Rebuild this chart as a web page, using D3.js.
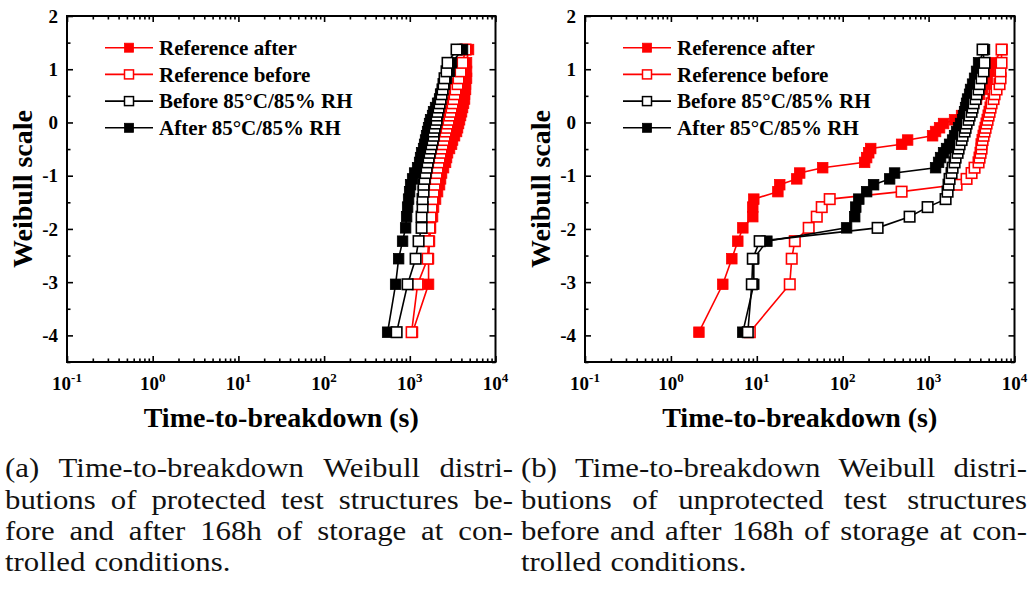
<!DOCTYPE html>
<html>
<head>
<meta charset="utf-8">
<script src="https://cdn.jsdelivr.net/npm/d3@7"></script>
<style>
  html, body { margin: 0; padding: 0; background: #fff; }
  svg { display: block; }
  .lbl { font-family: "Liberation Serif", "Times New Roman", serif; font-weight: bold; fill: #000; }
  .cap { font-family: "Liberation Serif", "Times New Roman", serif; font-size: 28px; fill: #111; }
</style>
</head>
<body>
<svg id="chart" width="1030" height="593"></svg>
<script>
// ---------------- data ----------------
// Weibull plotting levels shared by every series (36 samples each)
const weibullLevels = [-3.94,-3.04,-2.56,-2.23,-1.98,-1.77,-1.59,-1.44,-1.30,-1.17,-1.06,-0.95,-0.85,-0.75,-0.66,-0.57,-0.49,-0.41,-0.33,-0.25,-0.17,-0.10,-0.02,0.05,0.13,0.20,0.28,0.36,0.44,0.53,0.62,0.72,0.83,0.96,1.12,1.37];

const seriesNames = ["Reference after", "Reference before", "Before 85\u00B0C/85% RH", "After 85\u00B0C/85% RH"];

// Panel (a): protected test structures, time-to-breakdown (s)
const aRefAfter  = [1078,1656,1656,1701,1748,1844,1894,1999,2109,2225,2286,2348,2477,2614,2685,2758,2910,3071,3154,3328,3512,3607,3705,3806,3910,4016,4125,4237,4353,4353,4471,4471,4593,4593,4593,4846];
const aRefBefore = [1050,1233,1613,1656,1701,1748,1795,1844,1894,1946,1999,2053,2109,2166,2225,2286,2348,2412,2477,2545,2614,2685,2758,2833,2910,2989,3071,3154,3240,3328,3419,3607,3705,3910,4125,4471];
const aBefore85  = [702,943,1169,1266,1373,1373,1410,1410,1448,1448,1488,1528,1570,1613,1656,1701,1748,1795,1844,1894,1894,1946,1999,2053,2053,2109,2166,2225,2286,2348,2412,2477,2545,2685,2758,3512];
const aAfter85   = [551,683,741,824,894,918,943,968,995,1022,1078,1138,1233,1301,1336,1373,1448,1488,1528,1570,1613,1656,1701,1748,1844,1894,1999,2109,2225,2286,2412,2545,2685,2910,3071,4125];

// Panel (b): unprotected test structures, time-to-breakdown (s)
const bRefAfter  = [2.12,4.02,5.12,6.01,6.88,8.98,8.98,9.23,17.6,18.5,29.2,31.6,58.5,180,190,201,212,485,570,1113,1206,1342,1494,2006,2420,2694,2999,3338,3617,3919,4247,4603,4856,5123,5703,7150];
const bRefBefore = [8.29,24.2,25.5,27.7,40.2,49.9,57.0,70.6,485,2117,2767,3164,3428,3816,3919,4026,4135,4135,4247,4363,4481,4603,4728,4856,4988,5123,5262,5405,5703,5858,6180,6697,6879,6879,7066,7066];
const bBefore85  = [7.86,8.75,8.98,10.8,255,601,974,1577,1663,1708,1755,1851,1902,2006,2061,2174,2233,2294,2420,2486,2623,2694,2767,2919,2999,3164,3249,3338,3521,3617,3816,3919,4135,4363,4481,4247];
const bAfter85   = [6.88,9.23,9.23,13.1,111,138,142,154,190,229,352,402,1206,1307,1379,1494,1619,1755,1902,2006,2117,2233,2356,2486,2553,2623,2694,2767,2842,2999,3080,3249,3428,3617,3816,4481];

const xTickExps = [-1, 0, 1, 2, 3, 4];
const yTicks = [-4, -3, -2, -1, 0, 1, 2];
const yMinorTicks = [-4.5, -3.5, -2.5, -1.5, -0.5, 0.5, 1.5];

const captionA = ["(a) Time-to-breakdown Weibull distri-", "butions of protected test structures be-", "fore and after 168h of storage at con-", "trolled conditions."];
const captionB = ["(b) Time-to-breakdown Weibull distri-", "butions of unprotected test structures", "before and after 168h of storage at con-", "trolled conditions."];

// ---------------- styles ----------------
const styles = [
  { color: "#ff0000", filled: true },
  { color: "#ff0000", filled: false },
  { color: "#000000", filled: false },
  { color: "#000000", filled: true }
];
// drawing order: ref after, ref before, after 85, before 85
const drawOrder = [0, 1, 3, 2];

const svg = d3.select("#chart");
const yTop = 16, yBottom = 362;

const panels = [
  { x0: 67,  x1: 495.5, data: [aRefAfter, aRefBefore, aBefore85, aAfter85], caption: captionA, cx0: 5,   cx1: 513 },
  { x0: 585, x1: 1014.5, data: [bRefAfter, bRefBefore, bBefore85, bAfter85], caption: captionB, cx0: 521, cx1: 1027 }
];

const minorVals = [];
for (let e = -1; e < 4; e++) for (let m = 2; m <= 9; m++) minorVals.push(m * Math.pow(10, e));
const majorVals = xTickExps.map(e => Math.pow(10, e));

panels.forEach(p => {
  const x = d3.scaleLog().domain([0.1, 1e4]).range([p.x0, p.x1]);
  const y = d3.scaleLinear().domain([-4.5, 2]).range([yBottom, yTop]);
  const g = svg.append("g");

  // series
  const sz = 10.5;
  drawOrder.forEach(si => {
    const st = styles[si];
    const pts = p.data[si].map((t, i) => [t, weibullLevels[i]]);
    g.append("path")
      .datum(pts)
      .attr("fill", "none")
      .attr("stroke", st.color)
      .attr("stroke-width", 1.6)
      .attr("d", d3.line().x(d => x(d[0])).y(d => y(d[1])));
    g.selectAll(null).data(pts).enter().append("rect")
      .attr("x", d => x(d[0]) - sz / 2)
      .attr("y", d => y(d[1]) - sz / 2)
      .attr("width", sz).attr("height", sz)
      .attr("fill", st.filled ? st.color : "#fff")
      .attr("stroke", st.color)
      .attr("stroke-width", st.filled ? 0.8 : 1.6);
  });

  // axes ticks (inward), all four sides
  const axStyle = sel => {
    sel.selectAll("path.domain").remove();
    sel.selectAll("line").attr("stroke", "#000").attr("stroke-width", 1.6);
    sel.selectAll("text").remove();
  };
  g.append("g").attr("transform", `translate(0,${yBottom})`)
    .call(d3.axisBottom(x).tickValues(majorVals).tickSize(-6)).call(axStyle);
  g.append("g").attr("transform", `translate(0,${yBottom})`)
    .call(d3.axisBottom(x).tickValues(minorVals).tickSize(-3.5)).call(axStyle);
  g.append("g").attr("transform", `translate(0,${yTop})`)
    .call(d3.axisTop(x).tickValues(majorVals).tickSize(-6)).call(axStyle);
  g.append("g").attr("transform", `translate(0,${yTop})`)
    .call(d3.axisTop(x).tickValues(minorVals).tickSize(-3.5)).call(axStyle);
  g.append("g").attr("transform", `translate(${p.x0},0)`)
    .call(d3.axisLeft(y).tickValues(yTicks).tickSize(-6)).call(axStyle);
  g.append("g").attr("transform", `translate(${p.x0},0)`)
    .call(d3.axisLeft(y).tickValues(yMinorTicks).tickSize(-3.5)).call(axStyle);
  g.append("g").attr("transform", `translate(${p.x1},0)`)
    .call(d3.axisRight(y).tickValues(yTicks).tickSize(-6)).call(axStyle);
  g.append("g").attr("transform", `translate(${p.x1},0)`)
    .call(d3.axisRight(y).tickValues(yMinorTicks).tickSize(-3.5)).call(axStyle);

  // frame
  g.append("rect")
    .attr("x", p.x0).attr("y", yTop)
    .attr("width", p.x1 - p.x0).attr("height", yBottom - yTop)
    .attr("fill", "none").attr("stroke", "#000").attr("stroke-width", 2);

  // y tick labels
  yTicks.forEach(v => {
    g.append("text").attr("class", "lbl")
      .attr("x", p.x0 - 9).attr("y", y(v)).attr("dy", "0.35em")
      .attr("text-anchor", "end").attr("font-size", 19)
      .text(String(v));
  });
  // x tick labels 10^e
  xTickExps.forEach(e => {
    const t = g.append("text").attr("class", "lbl")
      .attr("x", x(Math.pow(10, e))).attr("y", 390)
      .attr("text-anchor", "middle").attr("font-size", 19);
    t.append("tspan").text("10");
    t.append("tspan").attr("dy", -8).attr("font-size", 13).text(String(e));
  });

  // axis titles
  g.append("text").attr("class", "lbl")
    .attr("x", (p.x0 + p.x1) / 2).attr("y", 427)
    .attr("text-anchor", "middle").attr("font-size", 28)
    .text("Time-to-breakdown (s)");
  g.append("text").attr("class", "lbl")
    .attr("transform", `translate(${p.x0 - 35},${(yTop + yBottom) / 2}) rotate(-90)`)
    .attr("text-anchor", "middle").attr("font-size", 28)
    .text("Weibull scale");

  // legend
  seriesNames.forEach((name, i) => {
    const st = styles[i];
    const ly = 47.7 + i * 26.7;
    g.append("line")
      .attr("x1", p.x0 + 38).attr("x2", p.x0 + 86)
      .attr("y1", ly).attr("y2", ly)
      .attr("stroke", st.color).attr("stroke-width", 1.6);
    g.append("rect")
      .attr("x", p.x0 + 62 - 4.5).attr("y", ly - 4.5)
      .attr("width", 9).attr("height", 9)
      .attr("fill", st.filled ? st.color : "#fff")
      .attr("stroke", st.color).attr("stroke-width", st.filled ? 0.8 : 1.5);
    g.append("text").attr("class", "lbl")
      .attr("x", p.x0 + 92).attr("y", ly).attr("dy", "0.35em")
      .attr("font-size", 21)
      .text(name);
  });

  // caption, justified (glyphs widened slightly to mimic the wider TeX face)
  const baselines = [477, 508.5, 540, 571];
  const widen = 1.1;
  const cg = svg.append("g");
  p.caption.forEach((line, i) => {
    const words = line.split(" ");
    const last = i === p.caption.length - 1;
    const nodes = words.map(w => cg.append("text").attr("class", "cap").text(w));
    const widths = nodes.map(n => n.node().getComputedTextLength() * widen);
    nodes.forEach((n, j) => n.attr("textLength", widths[j]).attr("lengthAdjust", "spacingAndGlyphs"));
    const total = d3.sum(widths);
    const gap = last ? 9 : (p.cx1 - p.cx0 - total) / (words.length - 1);
    let cx = p.cx0;
    nodes.forEach((n, j) => {
      n.attr("x", cx).attr("y", baselines[i]);
      cx += widths[j] + gap;
    });
  });
});
</script>
</body>
</html>
